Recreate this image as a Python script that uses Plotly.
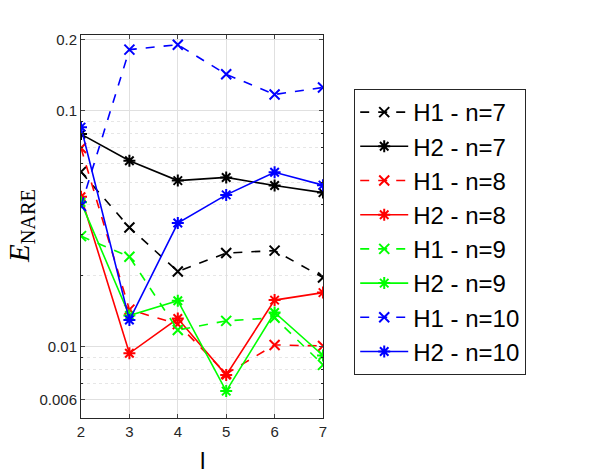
import plotly.graph_objects as go

# levels l
l_vals = [2, 3, 4, 5, 6, 7]

# E_NARE values
h1_n7 = [0.0552, 0.0321, 0.0209, 0.0250, 0.0256, 0.0197]
h2_n7 = [0.0798, 0.0615, 0.0507, 0.0523, 0.0483, 0.0451]
h1_n8 = [0.0697, 0.0144, 0.0125, 0.0077, 0.0102, 0.0101]
h2_n8 = [0.0433, 0.0094, 0.0132, 0.0076, 0.0158, 0.0170]
h1_n9 = [0.0295, 0.0241, 0.0118, 0.0129, 0.0133, 0.0084]
h2_n9 = [0.0410, 0.0136, 0.0157, 0.0065, 0.0140, 0.0092]
h1_n10 = [0.0396, 0.182, 0.191, 0.143, 0.1175, 0.1258]
h2_n10 = [0.0854, 0.0130, 0.0335, 0.0441, 0.0550, 0.0485]

series = [
    ('H1 - n=7', h1_n7, 'black', 'dash'),
    ('H2 - n=7', h2_n7, 'black', 'solid'),
    ('H1 - n=8', h1_n8, 'red', 'dash'),
    ('H2 - n=8', h2_n8, 'red', 'solid'),
    ('H1 - n=9', h1_n9, '#00ff00', 'dash'),
    ('H2 - n=9', h2_n9, '#00ff00', 'solid'),
    ('H1 - n=10', h1_n10, 'blue', 'dash'),
    ('H2 - n=10', h2_n10, 'blue', 'solid'),
]

y_ticks = [0.006, 0.01, 0.1, 0.2]
y_tick_text = ['0.006', '0.01', '0.1', '0.2']
y_minor = [0.005, 0.007, 0.008, 0.009, 0.02, 0.03, 0.04, 0.05, 0.06, 0.07, 0.08, 0.09]

fig = go.Figure()

for name, vals, color, dash in series:
    symbol = 'x-thin-open' if dash == 'dash' else 'asterisk-open'
    fig.add_trace(go.Scatter(
        x=l_vals, y=vals, name=name, mode='lines+markers',
        line=dict(color=color, width=1.6, dash=dash),
        marker=dict(symbol=symbol, size=10, color=color, line=dict(color=color, width=2)),
        legendgroup=name,
    ))

axis_font = dict(family='Liberation Sans, Arial', size=15, color='#262626')

# page has an 8px body margin, so the figure is a bit smaller than the window
fig.update_layout(
    width=608, height=463,
    margin=dict(l=72.5, r=293, t=27, b=53),
    plot_bgcolor='white', paper_bgcolor='white',
    showlegend=True,
    legend=dict(
        x=1.129, y=0.859, xanchor='left', yanchor='top',
        bordercolor='#262626', borderwidth=1, bgcolor='white',
        font=dict(family='Liberation Sans, Arial', size=24, color='black'),
        tracegroupgap=0, itemwidth=48,
    ),
    xaxis=dict(
        range=[2, 7], tickvals=l_vals, ticks='inside', ticklen=4,
        showline=True, linecolor='#262626', linewidth=1, mirror='ticks',
        showgrid=True, gridcolor='#e0e0e0', zeroline=False,
        tickfont=axis_font,
        automargin=False,
    ),
    yaxis=dict(
        type='log', range=[-2.301, -0.678],
        tickvals=y_ticks, ticktext=y_tick_text, ticks='inside', ticklen=4,
        showline=True, linecolor='#262626', linewidth=1, mirror='ticks',
        showgrid=True, gridcolor='#e0e0e0', zeroline=False,
        minor=dict(tickvals=y_minor, showgrid=True, gridcolor='#e6e6e6', griddash='dot',
                   ticks='inside', ticklen=2, tickcolor='#262626'),
        tickfont=axis_font,
        automargin=False,
    ),
)

# axis titles placed as annotations
fig.add_annotation(
    text='l', xref='paper', yref='paper', x=0.5, y=-0.11,
    xanchor='center', yanchor='middle', showarrow=False,
    font=dict(family='Liberation Sans, Arial', size=24, color='black'),
)
fig.add_annotation(
    text='<i>E</i><sub>NARE</sub>', xref='paper', yref='paper', x=-0.25, y=0.5,
    xanchor='center', yanchor='middle', showarrow=False, textangle=-90,
    font=dict(family='Liberation Serif, Times New Roman', size=29, color='black'),
)

fig.write_html("out.html")
